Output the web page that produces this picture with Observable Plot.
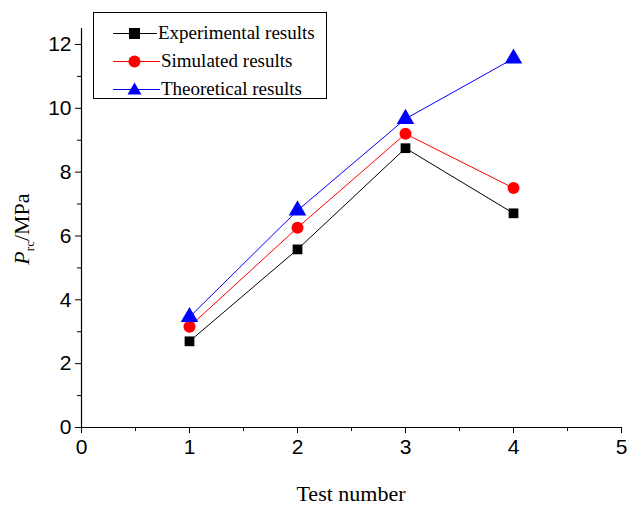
<!DOCTYPE html>
<html><head><meta charset="utf-8">
<script src="https://cdn.jsdelivr.net/npm/d3@7"></script>
<script src="https://cdn.jsdelivr.net/npm/@observablehq/plot@0.6"></script>
<style>
body{margin:0;background:#fff;}
#wrap{position:relative;width:628px;height:505px;}
#legend{position:absolute;left:93px;top:12px;width:234px;height:87px;border:1px solid #000;box-sizing:border-box;background:#fff;font-family:"Liberation Serif",serif;font-size:19px;}
.li{position:absolute;left:19px;height:24px;display:flex;align-items:center;}
.li svg{margin-right:1px;}
</style></head>
<body><div id="wrap"><div id="legend"></div></div>
<script>
const tests = [1, 2, 3, 4];
const experimental = [2.70, 5.58, 8.75, 6.71];
const simulated = [3.16, 6.26, 9.20, 7.50];
const theoretical = [3.46, 6.80, 9.67, 11.56];
const seriesNames = ["Experimental results", "Simulated results", "Theoretical results"];
const seriesColors = ["#000000", "#ff0000", "#0000ff"];
const seriesSymbols = ["square", "circle", "triangle"];
const xTicks = [0, 1, 2, 3, 4, 5];
const yTicks = [0, 2, 4, 6, 8, 10, 12];

const values = [experimental, simulated, theoretical];
const data = [];
values.forEach((arr, s) => arr.forEach((v, i) => data.push({series: seriesNames[s], x: tests[i], y: v})));

const xMinor = d3.range(0.5, 5, 1);
const yMinor = d3.range(1, 12, 2);

const plot = Plot.plot({
  width: 628, height: 505,
  marginLeft: 81, marginRight: 7, marginTop: 28, marginBottom: 78,
  style: {fontFamily: "'Liberation Sans', Arial, sans-serif", background: "#fff", overflow: "visible"},
  x: {domain: [0, 5], label: null},
  y: {domain: [0, 12.5], label: null},
  color: {domain: seriesNames, range: seriesColors},
  symbol: {domain: seriesNames, range: seriesSymbols},
  marks: [
    Plot.axisX({ticks: xTicks, tickFormat: d3.format("d"), tickSize: 6, tickPadding: 6, fontSize: 21, stroke: "#000", color: "#000"}),
    Plot.axisX({ticks: xMinor, tickSize: 4, text: null, stroke: "#000"}),
    Plot.axisY({ticks: yTicks, tickFormat: d3.format("d"), tickSize: 6, tickPadding: 4, fontSize: 21, stroke: "#000", color: "#000"}),
    Plot.axisY({ticks: yMinor, tickSize: 4, text: null, stroke: "#000"}),
    Plot.ruleY([0], {stroke: "#000", strokeWidth: 1.2}),
    Plot.ruleX([0], {stroke: "#000", strokeWidth: 1.2}),
    Plot.line(data, {x: "x", y: "y", z: "series", stroke: "series", strokeWidth: 1}),
    Plot.dot(data.filter(d => d.series === seriesNames[0]), {x: "x", y: "y", symbol: "series", fill: "series", r: 5.5, stroke: "none"}),
    Plot.dot(data.filter(d => d.series === seriesNames[1]), {x: "x", y: "y", symbol: "series", fill: "series", r: 6, stroke: "none"}),
    Plot.dot(data.filter(d => d.series === seriesNames[2]), {x: "x", y: "y", symbol: "series", fill: "series", r: 6.5, stroke: "none"})
  ]
});
document.getElementById("wrap").prepend(plot);

const svg = d3.select(plot);
// axis titles
svg.append("text").attr("x", 351).attr("y", 501).attr("text-anchor", "middle")
  .attr("font-family", "'Liberation Serif', serif").attr("font-size", 22).attr("fill", "#000").text("Test number");
const yl = svg.append("text").attr("transform", "translate(29,229) rotate(-90)").attr("text-anchor", "middle")
  .attr("font-family", "'Liberation Serif', serif").attr("font-size", 22).attr("fill", "#000");
yl.append("tspan").attr("font-style", "italic").text("P");
yl.append("tspan").attr("font-size", 13).attr("dy", 5).text("rc");
yl.append("tspan").attr("dy", -5).text("/MPa");

// legend
const leg = document.getElementById("legend");
const symPaths = {
  square: '<rect x="16" y="6" width="11" height="11" fill="C"/>',
  circle: '<circle cx="21.5" cy="11.5" r="6" fill="C"/>',
  triangle: '<path d="M21.5 4.5 L28.5 16.5 L14.5 16.5 Z" fill="C"/>'
};
seriesNames.forEach((n, i) => {
  const c = seriesColors[i];
  const div = document.createElement("div");
  div.className = "li";
  div.style.top = (8 + i * 28) + "px";
  const w = i === 0 ? 44 : 47;
  div.innerHTML = `<svg width="${w}" height="23"><line x1="0" x2="${w}" y1="11.5" y2="11.5" stroke="${c}" stroke-width="1"/>${symPaths[seriesSymbols[i]].replace("C", c)}</svg><span>${n}</span>`;
  leg.appendChild(div);
});
</script></body></html>
